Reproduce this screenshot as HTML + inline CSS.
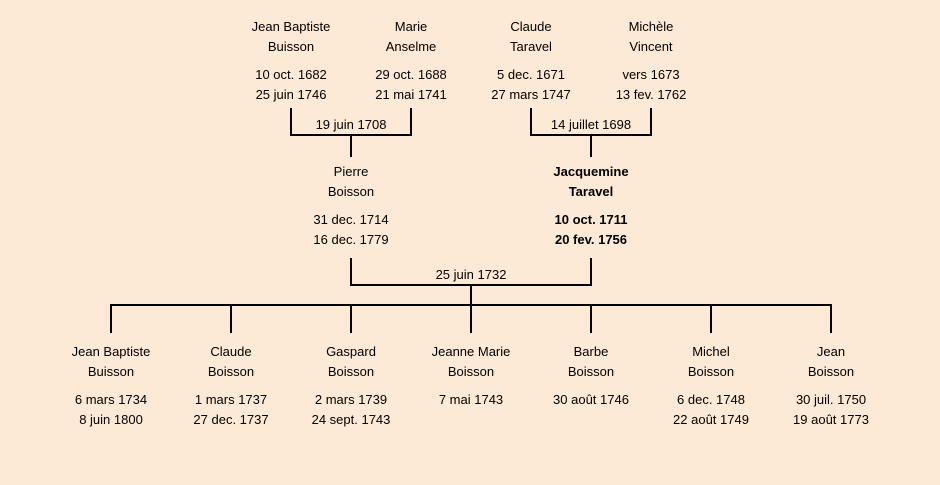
<!DOCTYPE html>
<html><head><meta charset="utf-8"><style>
body{margin:0;width:940px;height:485px;background:#fce9d6;position:relative;overflow:hidden;font-family:"Liberation Sans",sans-serif;font-size:13px;color:#000}
.t{position:absolute;width:140px;margin-left:-70px;text-align:center;line-height:20px;white-space:nowrap}
.b{font-weight:bold}
.l{position:absolute;background:#000}
</style></head><body>
<div class="t" style="left:291px;top:17px">Jean Baptiste<br>Buisson</div>
<div class="t" style="left:291px;top:65px">10 oct. 1682<br>25 juin 1746</div>
<div class="t" style="left:411px;top:17px">Marie<br>Anselme</div>
<div class="t" style="left:411px;top:65px">29 oct. 1688<br>21 mai 1741</div>
<div class="t" style="left:531px;top:17px">Claude<br>Taravel</div>
<div class="t" style="left:531px;top:65px">5 dec. 1671<br>27 mars 1747</div>
<div class="t" style="left:651px;top:17px">Michèle<br>Vincent</div>
<div class="t" style="left:651px;top:65px">vers 1673<br>13 fev. 1762</div>
<div class="t" style="left:351px;top:115px">19 juin 1708</div>
<div class="t" style="left:591px;top:115px">14 juillet 1698</div>
<div class="t" style="left:351px;top:162px">Pierre<br>Boisson</div>
<div class="t" style="left:351px;top:210px">31 dec. 1714<br>16 dec. 1779</div>
<div class="t b" style="left:591px;top:162px">Jacquemine<br>Taravel</div>
<div class="t b" style="left:591px;top:210px">10 oct. 1711<br>20 fev. 1756</div>
<div class="t" style="left:471px;top:265px">25 juin 1732</div>
<div class="t" style="left:111px;top:342px">Jean Baptiste<br>Buisson</div>
<div class="t" style="left:111px;top:390px">6 mars 1734<br>8 juin 1800</div>
<div class="t" style="left:231px;top:342px">Claude<br>Boisson</div>
<div class="t" style="left:231px;top:390px">1 mars 1737<br>27 dec. 1737</div>
<div class="t" style="left:351px;top:342px">Gaspard<br>Boisson</div>
<div class="t" style="left:351px;top:390px">2 mars 1739<br>24 sept. 1743</div>
<div class="t" style="left:471px;top:342px">Jeanne Marie<br>Boisson</div>
<div class="t" style="left:471px;top:390px">7 mai 1743</div>
<div class="t" style="left:591px;top:342px">Barbe<br>Boisson</div>
<div class="t" style="left:591px;top:390px">30 août 1746</div>
<div class="t" style="left:711px;top:342px">Michel<br>Boisson</div>
<div class="t" style="left:711px;top:390px">6 dec. 1748<br>22 août 1749</div>
<div class="t" style="left:831px;top:342px">Jean<br>Boisson</div>
<div class="t" style="left:831px;top:390px">30 juil. 1750<br>19 août 1773</div>
<!-- lines -->
<div class="l" style="left:290px;top:108px;width:2px;height:28px"></div>
<div class="l" style="left:410px;top:108px;width:2px;height:28px"></div>
<div class="l" style="left:290px;top:134px;width:122px;height:2px"></div>
<div class="l" style="left:350px;top:134px;width:2px;height:23px"></div>
<div class="l" style="left:530px;top:108px;width:2px;height:28px"></div>
<div class="l" style="left:650px;top:108px;width:2px;height:28px"></div>
<div class="l" style="left:530px;top:134px;width:122px;height:2px"></div>
<div class="l" style="left:590px;top:134px;width:2px;height:23px"></div>
<div class="l" style="left:350px;top:258px;width:2px;height:28px"></div>
<div class="l" style="left:590px;top:258px;width:2px;height:28px"></div>
<div class="l" style="left:350px;top:284px;width:242px;height:2px"></div>
<div class="l" style="left:470px;top:284px;width:2px;height:22px"></div>
<div class="l" style="left:110px;top:304px;width:722px;height:2px"></div>
<div class="l" style="left:110px;top:304px;width:2px;height:29px"></div>
<div class="l" style="left:230px;top:304px;width:2px;height:29px"></div>
<div class="l" style="left:350px;top:304px;width:2px;height:29px"></div>
<div class="l" style="left:470px;top:304px;width:2px;height:29px"></div>
<div class="l" style="left:590px;top:304px;width:2px;height:29px"></div>
<div class="l" style="left:710px;top:304px;width:2px;height:29px"></div>
<div class="l" style="left:830px;top:304px;width:2px;height:29px"></div>
</body></html>
